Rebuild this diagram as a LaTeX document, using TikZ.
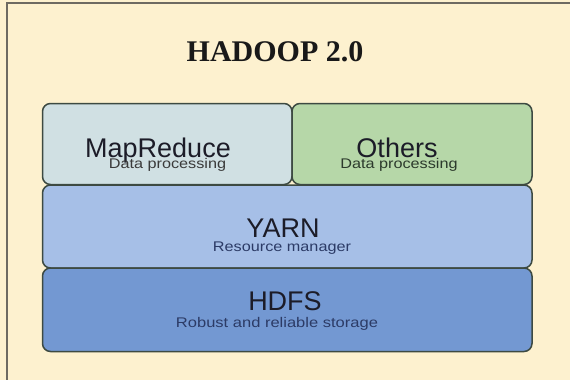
\documentclass[tikz,border=0pt]{standalone}
\usepackage{fontspec}
\usepackage{graphicx}
\setmainfont{Liberation Serif}
\setsansfont{Liberation Sans}
\definecolor{bg}{HTML}{FDF1CF}
\definecolor{framec}{HTML}{6E6A62}
\definecolor{boxline}{HTML}{3D4A42}
\definecolor{mrfill}{HTML}{D0E0E3}
\definecolor{otfill}{HTML}{B6D7A8}
\definecolor{yafill}{HTML}{A6BFE7}
\definecolor{hdfill}{HTML}{7398D2}
\definecolor{maintext}{HTML}{1C1C28}
\definecolor{subgray}{HTML}{3A3A3A}
\definecolor{subgreen}{HTML}{2C3A2C}
\definecolor{subblue}{HTML}{2C3B66}
\begin{document}
\begin{tikzpicture}[x=1pt,y=-1pt,
  layer/.style={draw=boxline, line width=1.5pt, rounded corners=8pt, inner sep=0pt},
  bigtxt/.style={anchor=base, inner sep=0pt, font=\sffamily\fontsize{27}{27}\selectfont, text=maintext},
  subtxt/.style={anchor=base, inner sep=0pt, font=\sffamily\fontsize{14}{14}\selectfont}]
\useasboundingbox (0,0) rectangle (570,380);
\fill[bg] (0,0) rectangle (570,380);
\draw[framec, line width=2pt] (7,381) -- (7,3) -- (571,3);
% title
\node[anchor=base, inner sep=0pt, font=\rmfamily\bfseries\fontsize{30}{30}\selectfont, text=black!90] (title) at (275,61) {HADOOP 2.0};
% layers
\node[layer, fill=mrfill, minimum width=249.5pt, minimum height=81pt] (mr) at (167.25,144) {};
\node[layer, fill=otfill, minimum width=240pt, minimum height=81pt] (ot) at (412,144) {};
\node[layer, fill=yafill, minimum width=489.5pt, minimum height=83pt] (ya) at (287.25,226.5) {};
\node[layer, fill=hdfill, minimum width=489.5pt, minimum height=83.5pt] (hd) at (287.25,309.75) {};
% texts
\node[bigtxt] (mrt) at (158,157) {MapReduce};
\node[subtxt, text=subgray] (mrs) at (167.5,168) {\scalebox{1.16}[1]{Data processing}};
\node[bigtxt] (ott) at (397,157) {Others};
\node[subtxt, text=subgreen] (ots) at (399,168) {\scalebox{1.16}[1]{Data processing}};
\node[bigtxt] (yat) at (283,237) {YARN};
\node[subtxt, text=subblue] (yas) at (282,251) {\scalebox{1.16}[1]{Resource manager}};
\node[bigtxt] (hdt) at (285,310) {HDFS};
\node[subtxt, text=subblue] (hds) at (277,327) {\scalebox{1.18}[1]{Robust and reliable storage}};
\end{tikzpicture}
\end{document}
